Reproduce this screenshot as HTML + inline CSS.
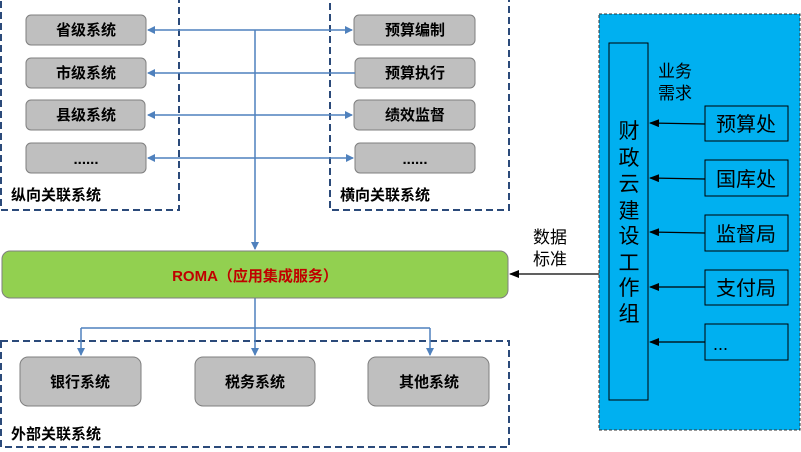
<!DOCTYPE html>
<html><head><meta charset="utf-8"><style>
body{margin:0;background:#fff}
svg{display:block}
text{font-family:"Liberation Sans","Noto Sans CJK SC",sans-serif}
.b{font-weight:bold;font-size:15px;fill:#000}
.w{font-size:21px;fill:#000}
</style></head><body>
<svg width="801" height="452" viewBox="0 0 801 452" xmlns="http://www.w3.org/2000/svg">
<defs>
<marker id="ab" markerWidth="8" markerHeight="8" refX="7" refY="4" orient="auto" markerUnits="userSpaceOnUse"><path d="M0,0 L8,4 L0,8z" fill="#4f81bd"/></marker>
<marker id="ak" markerWidth="10" markerHeight="8" refX="9" refY="4" orient="auto" markerUnits="userSpaceOnUse"><path d="M0,0 L10,4 L0,8z" fill="#000"/></marker>
</defs>
<g fill="none" stroke="#2b4a7a" stroke-width="2" stroke-dasharray="7,4">
<rect x="1" y="-2" width="178" height="212"/>
<rect x="330" y="-2" width="179" height="212"/>
<rect x="1" y="341" width="508" height="106"/>
</g>
<g fill="#bfbfbf" stroke="#7f7f7f" stroke-width="1">
<rect x="26" y="15" width="120" height="30" rx="5"/>
<rect x="26" y="58" width="120" height="30" rx="5"/>
<rect x="26" y="100" width="119" height="30" rx="5"/>
<rect x="26" y="143" width="120" height="30" rx="5"/>
<rect x="354" y="15" width="121" height="30" rx="5"/>
<rect x="355" y="58" width="120" height="30" rx="5"/>
<rect x="354" y="100" width="121" height="30" rx="5"/>
<rect x="355" y="143" width="120" height="30" rx="5"/>
<rect x="20" y="357" width="121" height="49" rx="8"/>
<rect x="195" y="357" width="120" height="49" rx="8"/>
<rect x="368" y="357" width="121" height="49" rx="8"/>
</g>
<g text-anchor="middle" class="b">
<text x="86" y="35" class="b">省级系统</text>
<text x="86" y="78" class="b">市级系统</text>
<text x="86" y="120" class="b">县级系统</text>
<text x="86" y="164" class="b">......</text>
<text x="415" y="35" class="b">预算编制</text>
<text x="415" y="78" class="b">预算执行</text>
<text x="415" y="120" class="b">绩效监督</text>
<text x="415" y="164" class="b">......</text>
<text x="80" y="387" class="b">银行系统</text>
<text x="255" y="387" class="b">税务系统</text>
<text x="429" y="387" class="b">其他系统</text>
</g>
<text x="11" y="200" class="b">纵向关联系统</text>
<text x="340" y="200" class="b">横向关联系统</text>
<text x="11" y="439" class="b">外部关联系统</text>
<g stroke="#4f81bd" stroke-width="1.5" fill="none">
<line x1="255" y1="30" x2="148" y2="30" marker-end="url(#ab)"/>
<line x1="255" y1="30" x2="352" y2="30" marker-end="url(#ab)"/>
<line x1="355" y1="73" x2="148" y2="73" marker-end="url(#ab)"/>
<line x1="255" y1="115" x2="148" y2="115" marker-end="url(#ab)"/>
<line x1="255" y1="115" x2="352" y2="115" marker-end="url(#ab)"/>
<line x1="255" y1="158" x2="148" y2="158" marker-end="url(#ab)"/>
<line x1="255" y1="158" x2="353" y2="158" marker-end="url(#ab)"/>
<line x1="255" y1="30" x2="255" y2="249" marker-end="url(#ab)"/>
<line x1="255" y1="298" x2="255" y2="355" marker-end="url(#ab)"/>
<line x1="81" y1="328" x2="430" y2="328"/>
<line x1="81" y1="328" x2="81" y2="355" marker-end="url(#ab)"/>
<line x1="430" y1="328" x2="430" y2="355" marker-end="url(#ab)"/>
</g>
<rect x="2" y="251" width="506" height="47" rx="8" fill="#92d050" stroke="#7f7f7f" stroke-width="1"/>
<text x="255" y="281" text-anchor="middle" font-size="15" font-weight="bold" fill="#c00000">ROMA（应用集成服务）</text>
<rect x="599" y="14" width="201" height="416" fill="#00b0f0" stroke="#333" stroke-width="1" stroke-dasharray="3,2"/>
<rect x="609" y="43" width="39" height="357" fill="none" stroke="#000" stroke-width="1"/>
<g class="w" text-anchor="middle">
<text x="629" y="138" class="w">财</text>
<text x="629" y="165" class="w">政</text>
<text x="629" y="191" class="w">云</text>
<text x="629" y="218" class="w">建</text>
<text x="629" y="243" class="w">设</text>
<text x="629" y="270" class="w">工</text>
<text x="629" y="295" class="w">作</text>
<text x="629" y="321" class="w">组</text>
</g>
<text x="658" y="77" font-size="17" fill="#000">业务</text>
<text x="658" y="99" font-size="17" fill="#000">需求</text>
<g fill="none" stroke="#000" stroke-width="1">
<rect x="705" y="106" width="83" height="35"/>
<rect x="705" y="160" width="83" height="36"/>
<rect x="705" y="215" width="83" height="36"/>
<rect x="705" y="270" width="83" height="35"/>
<rect x="705" y="324" width="83" height="36"/>
</g>
<g text-anchor="middle" font-size="20" fill="#000">
<text x="746" y="131">预算处</text>
<text x="746" y="186">国库处</text>
<text x="746" y="241">监督局</text>
<text x="746" y="295">支付局</text>
</g>
<text x="713" y="350" font-size="18" fill="#000">...</text>
<g stroke="#000" stroke-width="1.2">
<line x1="705" y1="124" x2="650" y2="123" marker-end="url(#ak)"/>
<line x1="705" y1="179" x2="650" y2="178" marker-end="url(#ak)"/>
<line x1="705" y1="233" x2="650" y2="232" marker-end="url(#ak)"/>
<line x1="705" y1="287" x2="650" y2="287" marker-end="url(#ak)"/>
<line x1="705" y1="342" x2="650" y2="342" marker-end="url(#ak)"/>
<line x1="599" y1="274" x2="510" y2="274" marker-end="url(#ak)"/>
</g>
<text x="533" y="243" font-size="17" fill="#000">数据</text>
<text x="533" y="265" font-size="17" fill="#000">标准</text>
</svg>
</body></html>
